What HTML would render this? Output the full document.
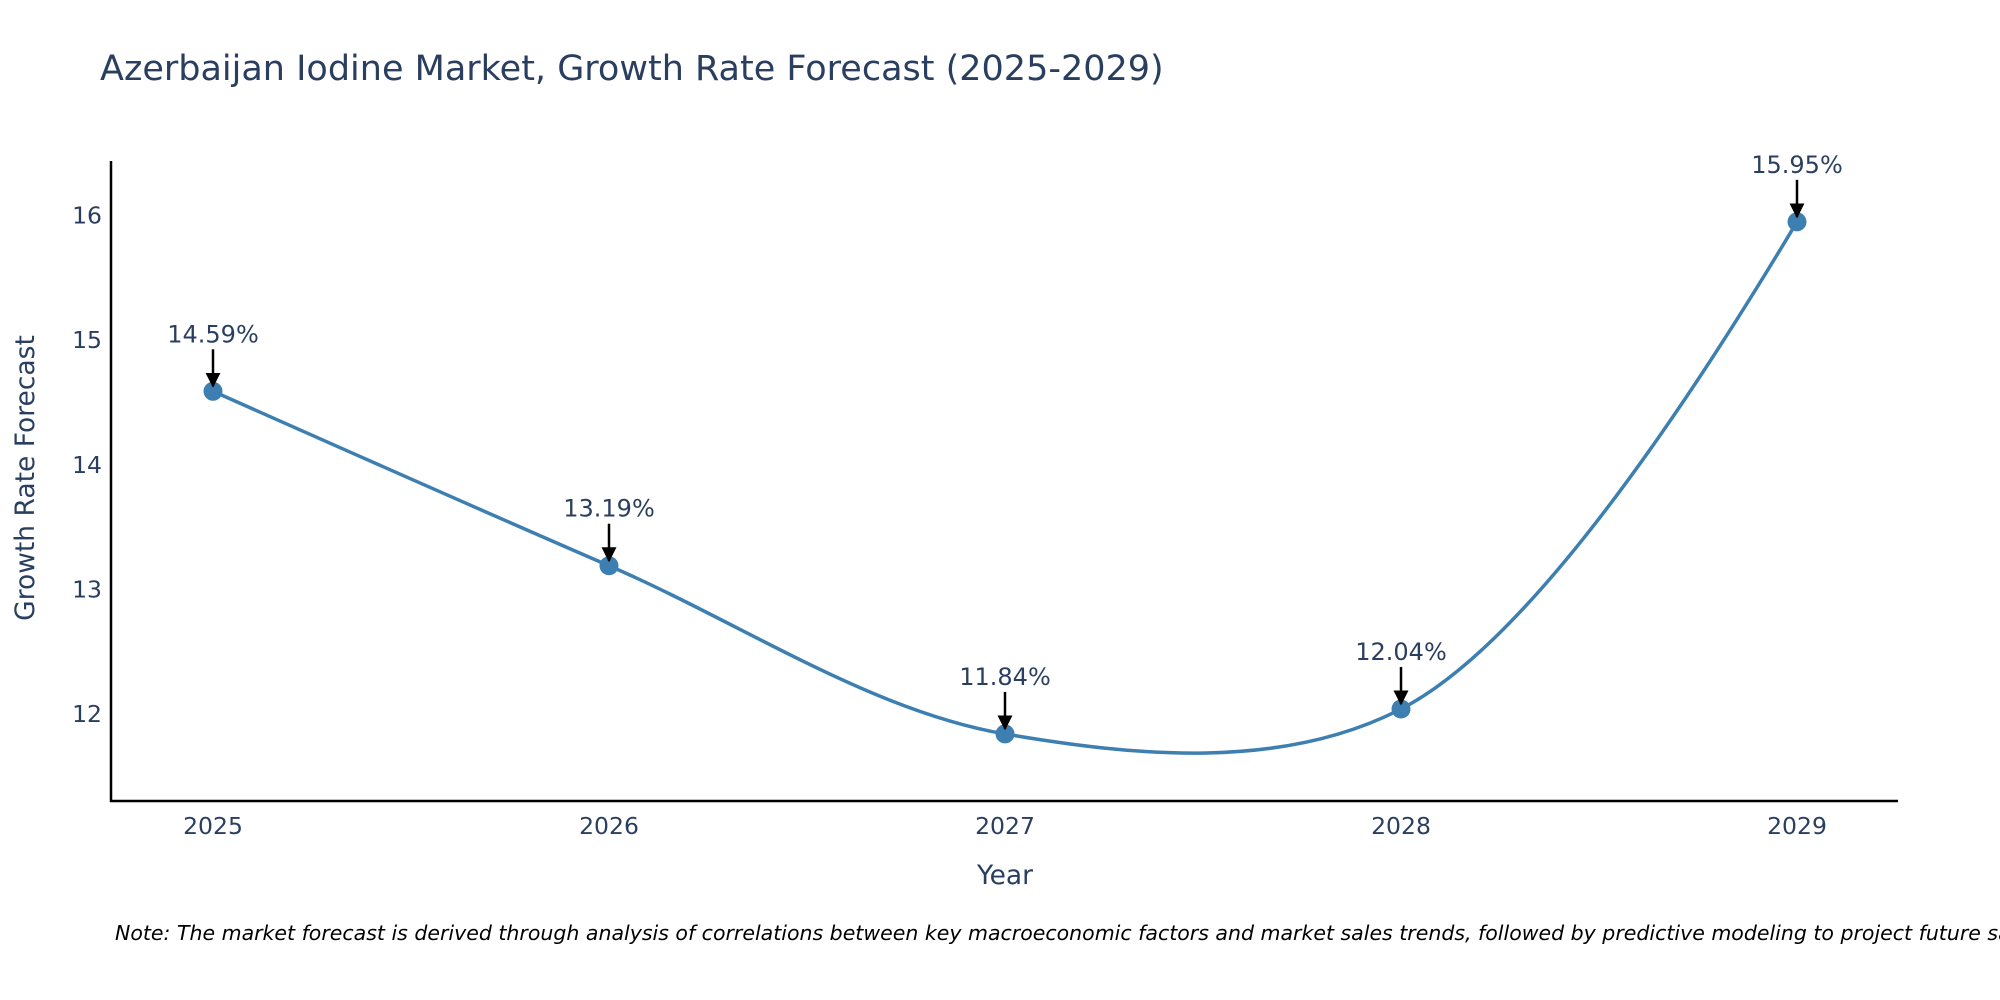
<!DOCTYPE html>
<html><head><meta charset="utf-8"><style>
body{margin:0;background:#fff;}
svg{display:block;font-family:"DejaVu Sans","Liberation Sans",sans-serif;}
</style></head><body>
<svg id="chart" width="2000" height="1000">
<text x="100" y="80" font-size="35" fill="#2a3f5f">Azerbaijan Iodine Market, Growth Rate Forecast (2025-2029)</text>
<g id="plot"></g>
<text x="1005" y="884" font-size="26.5" fill="#2a3f5f" text-anchor="middle">Year</text>
<text transform="translate(34,478) rotate(-90)" font-size="26.5" fill="#2a3f5f" text-anchor="middle">Growth Rate Forecast</text>
<text x="115" y="940" font-size="20.5" font-style="italic" fill="#000">Note: The market forecast is derived through analysis of correlations between key macroeconomic factors and market sales trends, followed by predictive modeling to project future sales.</text>
</svg>
<script>
const years = [2025, 2026, 2027, 2028, 2029];
const rates = [14.59, 13.19, 11.84, 12.04, 15.95];
const labels = ["14.59%", "13.19%", "11.84%", "12.04%", "15.95%"];
const yTicks = [12, 13, 14, 15, 16];

const NS = "http://www.w3.org/2000/svg";
const g = document.getElementById("plot");
const X = v => 213 + (v - 2025) * 396;
const Y = v => 714 - (v - 12) * 124.6;
function mk(tag, attrs, parent) {
  const e = document.createElementNS(NS, tag);
  for (const k in attrs) e.setAttribute(k, attrs[k]);
  (parent || g).appendChild(e);
  return e;
}
const defs = mk("defs", {});
const m = mk("marker", {id: "ah", viewBox: "0 0 10 10", refX: "9", refY: "5", markerWidth: "6", markerHeight: "6", orient: "auto", markerUnits: "strokeWidth"}, defs);
mk("path", {d: "M0,0 L10,5 L0,10 z", fill: "#000"}, m);

const ya = mk("line", {x1: 111, y1: 161, x2: 111, y2: 802, stroke: "#000", "stroke-width": 2.5});


const xa = mk("line", {x1: 110, y1: 801, x2: 1898, y2: 801, stroke: "#000", "stroke-width": 2.5});



yTicks.forEach(t => {
  const e = mk("text", {x: 102, y: Y(t) + 8, "font-size": 23.5, fill: "#2a3f5f", "text-anchor": "end"});
  e.textContent = t;
  
  
});
years.forEach(t => {
  const e = mk("text", {x: X(t), y: 834, "font-size": 23.5, fill: "#2a3f5f", "text-anchor": "middle"});
  e.textContent = t;
  
  
});

const pts = years.map((y, i) => [X(y), Y(rates[i])]);
function tangent(p, c, n, s) {
  const d1x = p[0] - c[0], d1y = p[1] - c[1], d2x = n[0] - c[0], d2y = n[1] - c[1];
  const d1a = Math.pow(d1x * d1x + d1y * d1y, 0.25), d2a = Math.pow(d2x * d2x + d2y * d2y, 0.25);
  const nx = (d2a * d2a * d1x - d1a * d1a * d2x) * s, ny = (d2a * d2a * d1y - d1a * d1a * d2y) * s;
  const den1 = 3 * d2a * (d1a + d2a), den2 = 3 * d1a * (d1a + d2a);
  return [[c[0] + nx / den1, c[1] + ny / den1], [c[0] - nx / den2, c[1] - ny / den2]];
}
const tg = [];
for (let i = 1; i < pts.length - 1; i++) tg.push(tangent(pts[i - 1], pts[i], pts[i + 1], 1));
let d = "M" + pts[0] + "Q" + tg[0][0] + " " + pts[1];
for (let i = 2; i < pts.length - 1; i++) d += "C" + tg[i - 2][1] + " " + tg[i - 1][0] + " " + pts[i];
d += "Q" + tg[pts.length - 3][1] + " " + pts[pts.length - 1];
const line = mk("path", {d: d, fill: "none", stroke: "#3d7fb1", "stroke-width": 3.5});



pts.forEach((p, i) => {
  const c = mk("circle", {cx: p[0], cy: p[1], r: 9.5, fill: "#3d7fb1"});
  
  
  const a = mk("line", {x1: p[0], y1: p[1] - 42, x2: p[0], y2: p[1] - 5, stroke: "#000", "stroke-width": 2.5, "marker-end": "url(#ah)"});
  
  
  const t = mk("text", {x: p[0], y: p[1] - 49, "font-size": 24, fill: "#2a3f5f", "text-anchor": "middle"});
  t.textContent = labels[i];
  
  
});
</script>
</body></html>
